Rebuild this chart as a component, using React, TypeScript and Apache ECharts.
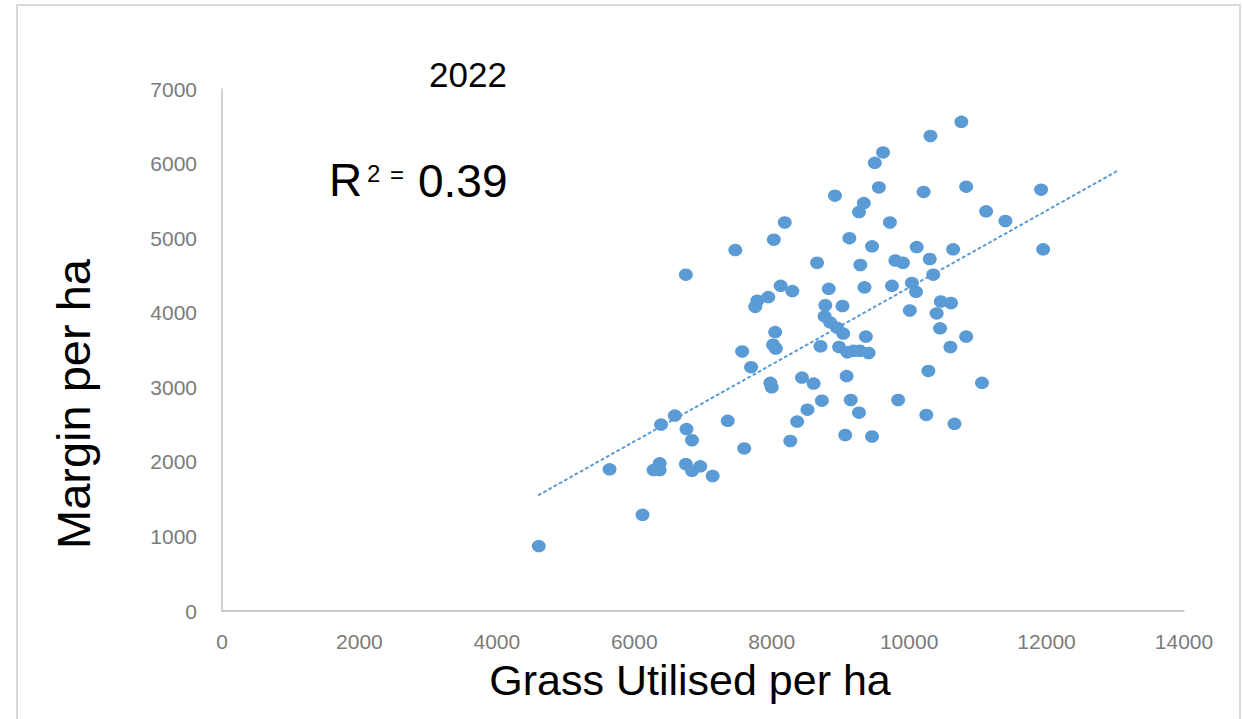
import React, { useEffect, useRef } from "react";
import * as echarts from "echarts";

// Grass utilised per ha (x) and margin per ha (y)
const grassUtilised = [
  4610, 5640, 6120, 6390, 6590, 6760, 6840, 6750, 6840, 6960, 7140, 6280, 6370, 6370,
  6750, 7470, 8030, 8190, 7360, 7600, 7570, 7700, 7760, 7790, 7950, 8130, 8050, 8020,
  8060, 7980, 8000, 8300, 10760, 10310, 9620, 9500, 9560, 10210, 10830, 8920, 9340, 9270,
  9720, 9130, 9460, 10110, 10640, 8660, 9290, 9800, 9910, 10300, 10350, 8830, 9350, 9750,
  10040, 10100, 10460, 10610, 8780, 9030, 10010, 10400, 8770, 8850, 8950, 9040, 9370, 10450,
  10830, 10600, 8710, 8980, 9100, 9190, 9280, 9410, 10280, 11060, 8440, 8610, 9090, 8730,
  8520, 8370, 8270, 9150, 9270, 9840, 10250, 10660, 9070, 9460, 11920, 11120, 11400, 11950,
];
const marginPerHa = [
  870, 1900, 1290, 2500, 2620, 2440, 2290, 1970, 1880, 1940, 1810, 1890, 1980, 1890,
  4510, 4840, 4980, 5210, 2550, 2180, 3480, 3270, 4080, 4160, 4210, 4360, 3740, 3570,
  3520, 3060, 3000, 4290, 6560, 6370, 6150, 6010, 5680, 5620, 5690, 5570, 5470, 5350,
  5210, 5000, 4890, 4880, 4850, 4670, 4640, 4700, 4670, 4720, 4510, 4320, 4340, 4360,
  4400, 4280, 4150, 4130, 4100, 4090, 4030, 3990, 3950, 3870, 3800, 3720, 3680, 3790,
  3680, 3540, 3550, 3540, 3470, 3490, 3490, 3460, 3220, 3060, 3130, 3050, 3150, 2820,
  2700, 2540, 2280, 2830, 2660, 2830, 2630, 2510, 2360, 2340, 5650, 5360, 5230, 4850,
];
// Linear trendline end points as drawn
const trendX = [4610, 13020];
const trendY = [1556, 5896];

const xTicks = [0, 14000, 2000];
const yTicks = [0, 7000, 1000];

const titleText = "2022";
const xName = "Grass Utilised per ha";
const yName = "Margin per ha";
const r2Value = "0.39";

export default function App() {
  const ref = useRef<HTMLDivElement>(null);
  useEffect(() => {
    if (!ref.current) return;
    const chart = echarts.init(ref.current, undefined, { renderer: "svg" });
    const points = grassUtilised.map((x, i) => [x, marginPerHa[i]]);
    const trend = trendX.map((x, i) => [x, trendY[i]]);
    const font = "'Liberation Sans', Arial, sans-serif";
    const plain = (v: number) => String(v);
    chart.setOption({
      animation: false,
      backgroundColor: "#ffffff",
      grid: { left: 222, top: 89, right: 58, bottom: 108, containLabel: false },
      xAxis: {
        type: "value",
        min: xTicks[0],
        max: xTicks[1],
        interval: xTicks[2],
        splitLine: { show: false },
        axisTick: { show: false },
        axisLine: { show: true, lineStyle: { color: "#bfbfbf", width: 1.5 } },
        axisLabel: { color: "#7a7a7a", fontSize: 21, fontFamily: font, margin: 20, formatter: plain },
      },
      yAxis: {
        type: "value",
        min: yTicks[0],
        max: yTicks[1],
        interval: yTicks[2],
        splitLine: { show: false },
        axisTick: { show: false },
        axisLine: { show: true, lineStyle: { color: "#bfbfbf", width: 1.5 } },
        axisLabel: { color: "#7a7a7a", fontSize: 21, fontFamily: font, margin: 25, formatter: plain },
      },
      series: [
        {
          type: "line",
          data: trend,
          symbol: "none",
          lineStyle: { color: "#5b9bd5", width: 2, type: [2, 4], cap: "round" },
          z: 1,
        },
        {
          type: "scatter",
          data: points,
          symbol: "circle",
          symbolSize: [14, 12.5],
          itemStyle: { color: "#5b9bd5", opacity: 1 },
          z: 2,
        },
      ],
      graphic: [
        {
          type: "rect",
          shape: { x: 17, y: 5, width: 1223, height: 720 },
          style: { fill: "none", stroke: "#d9d9d9", lineWidth: 2 },
          silent: true,
        },
        {
          type: "text",
          x: 468,
          y: 74.5,
          style: { text: titleText, font: `35px ${font}`, fill: "#000", align: "center", verticalAlign: "middle" },
        },
        {
          type: "text",
          x: 690,
          y: 680,
          style: { text: xName, font: `43px ${font}`, fill: "#000", align: "center", verticalAlign: "middle" },
        },
        {
          type: "text",
          x: 73,
          y: 404,
          rotation: Math.PI / 2,
          style: { text: yName, font: `47px ${font}`, fill: "#000", align: "center", verticalAlign: "middle" },
        },
        {
          type: "text",
          x: 329,
          y: 180,
          style: { text: "R", font: `46px ${font}`, fill: "#000", align: "left", verticalAlign: "middle" },
        },
        {
          type: "text",
          x: 367,
          y: 173.5,
          style: { text: "2", font: `24px ${font}`, fill: "#000", align: "left", verticalAlign: "middle" },
        },
        {
          type: "text",
          x: 390,
          y: 174.5,
          style: { text: "=", font: `24px ${font}`, fill: "#000", align: "left", verticalAlign: "middle" },
        },
        {
          type: "text",
          x: 418,
          y: 180.5,
          style: { text: r2Value, font: `46px ${font}`, fill: "#000", align: "left", verticalAlign: "middle" },
        },
      ],
    });
    return () => chart.dispose();
  }, []);
  return (
    <div
      ref={ref}
      style={{ position: "fixed", left: 0, top: 0, width: 1242, height: 719, background: "#fff" }}
    />
  );
}
